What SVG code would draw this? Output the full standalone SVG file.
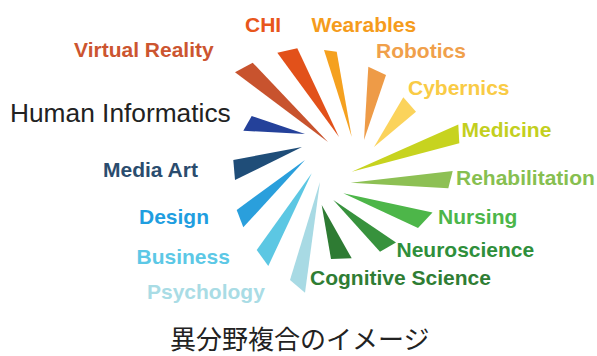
<svg xmlns="http://www.w3.org/2000/svg" width="597" height="356" viewBox="0 0 597 356">
<style>
.lbl{font-family:"Liberation Sans",Arial,sans-serif;font-weight:bold;font-size:21px}
.hi{font-family:"Liberation Sans",Arial,sans-serif;font-size:26.3px;fill:#222}
.cap{font-family:"Noto Sans CJK JP","Noto Sans CJK SC",sans-serif;font-size:26px;fill:#222}
</style>
<rect width="597" height="356" fill="#fff"/>
<g id="wedges">
<polygon id="w-vr" points="235,72.3 252.7,62.7 328,142" fill="#C8532E"/>
<polygon id="w-chi" points="277.3,52.7 297.3,48.3 339,137" fill="#E2511A"/>
<polygon id="w-wear" points="324,50 336.7,51.7 351.7,137" fill="#F5A11F"/>
<polygon id="w-rob" points="368.3,66.7 386,75 364,140" fill="#EE9B47"/>
<polygon id="w-cyb" points="403.3,97.3 416,111.7 374,147" fill="#FBD35B"/>
<polygon id="w-hi" points="243.3,130.7 251.7,116 305,134" fill="#24419A"/>
<polygon id="w-media" points="233.3,160 235,180 302,147" fill="#1F4D78"/>
<polygon id="w-design" points="236.7,210 243.3,227.3 305,160" fill="#2A9FDC"/>
<polygon id="w-bus" points="256.7,250 268.3,266 311.7,173.3" fill="#5CC7E3"/>
<polygon id="w-psy" points="290,280 305,292.7 320,181.7" fill="#A8DAE4"/>
<polygon id="w-cog" points="331,259 351.7,258.3 321.7,205" fill="#2E7B33"/>
<polygon id="w-neuro" points="396,242.5 380,251.7 333.3,200" fill="#37923D"/>
<polygon id="w-nurs" points="432.5,212.5 418,228 343.3,193.3" fill="#4DB649"/>
<polygon id="w-rehab" points="452.7,171 448.3,188.3 350.7,182.7" fill="#8DC054"/>
<polygon id="w-med" points="458.3,124.5 459.3,143.3 351.7,171.7" fill="#C7D31F"/>
</g>
<g id="labels">
<g id="n-vr"><text class="lbl" x="74" y="57" fill="#CC5530">Virtual Reality</text></g>
<g id="n-chi"><text class="lbl" x="245" y="32.3" fill="#E8561C">CHI</text></g>
<g id="n-wear"><text class="lbl" x="311.5" y="31.7" fill="#F59C1C">Wearables</text></g>
<g id="n-rob"><text class="lbl" x="376" y="58.3" fill="#F0A04B">Robotics</text></g>
<g id="n-cyb"><text class="lbl" x="408" y="94.5" fill="#F9CB45">Cybernics</text></g>
<g id="n-hi"><text class="hi" x="10" y="122.3">Human Informatics</text></g>
<g id="n-med"><text class="lbl" x="461.5" y="136.7" fill="#C3CF1E">Medicine</text></g>
<g id="n-media"><text class="lbl" x="103" y="176.7" fill="#2A4C6E">Media Art</text></g>
<g id="n-rehab"><text class="lbl" x="456" y="185" fill="#87BF50">Rehabilitation</text></g>
<g id="n-design"><text class="lbl" x="139" y="224" fill="#1F9EE0">Design</text></g>
<g id="n-nurs"><text class="lbl" x="438" y="224" fill="#4CB64A">Nursing</text></g>
<g id="n-neuro"><text class="lbl" x="396.5" y="256.7" fill="#2F8F3B">Neuroscience</text></g>
<g id="n-bus"><text class="lbl" x="136.5" y="264.3" fill="#5CC8E6">Business</text></g>
<g id="n-cog"><text class="lbl" x="310" y="285" fill="#2F7D34">Cognitive Science</text></g>
<g id="n-psy"><text class="lbl" x="147" y="299" fill="#A9DCE5">Psychology</text></g>
</g>
<text id="caption" class="cap" x="170" y="349">異分野複合のイメージ</text>
</svg>
